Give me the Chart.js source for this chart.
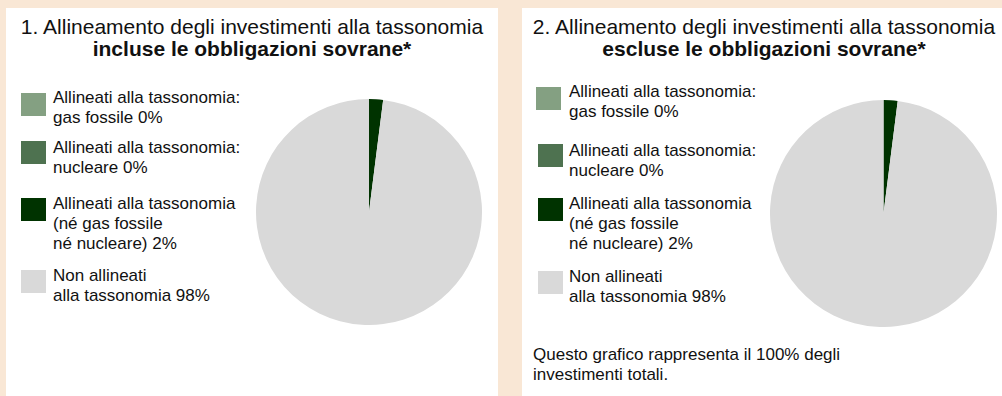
<!DOCTYPE html>
<html>
<head>
<meta charset="utf-8">
<script src="https://cdn.jsdelivr.net/npm/chart.js@4/dist/chart.umd.min.js"></script>
<style>
  body { margin: 0; width: 1002px; height: 396px; background: #f9e7d5; overflow: hidden;
         font-family: "Liberation Sans", Arial, sans-serif; color: #111; position: relative; }
  .panel { position: absolute; top: 8px; height: 388px; background: #fff; }
  .title { position: absolute; font-size: 21px; line-height: 22px; text-align: center; white-space: nowrap; }
  .title b { font-weight: bold; }
  .legend-item { position: absolute; font-size: 17px; line-height: 20px; white-space: nowrap; }
  .swatch { position: absolute; width: 25px; height: 23px; }
  .note { position: absolute; font-size: 17px; line-height: 20px; white-space: nowrap; }
  .pie { position: absolute; }
</style>
</head>
<body>
<div class="panel" style="left:6px; width:492px;"></div>
<div class="panel" style="left:522px; width:480px;"></div>

<div class="title" style="left:6px; width:492px; top:16px;">1. Allineamento degli investimenti alla tassonomia<br><b>incluse le obbligazioni sovrane*</b></div>
<div class="title" style="left:513px; width:502px; top:16px;">2. Allineamento degli investimenti alla tassonomia<br><b>escluse le obbligazioni sovrane*</b></div>

<div id="legend1"></div>
<div id="legend2"></div>

<div class="note" style="left:533px; top:345px;">Questo grafico rappresenta il 100% degli<br>investimenti totali.</div>

<div class="pie" style="left:256px; top:99px; width:226px; height:226px;"><canvas id="pie1"></canvas></div>
<div class="pie" style="left:770px; top:100px; width:227px; height:227px;"><canvas id="pie2"></canvas></div>

<script>
// categories and shares (%) for the two pies
var categories = [
    ['Allineati alla tassonomia:', 'gas fossile 0%'],
    ['Allineati alla tassonomia:', 'nucleare 0%'],
    ['Allineati alla tassonomia', '(né gas fossile', 'né nucleare) 2%'],
    ['Non allineati', 'alla tassonomia 98%']
];
var inclSovereign = [0, 0, 2, 98];
var exclSovereign = [0, 0, 2, 98];
var sliceColors = ['#84a082', '#4e7250', '#003300', '#d9d9d9'];

// legend rows: swatch x and swatch top for each item, text offset from swatch
var legendLeft = { x: [21, 21, 21, 21], textX: 53, tops: [93, 141, 198, 270], textTop: [-5, -3, -4, -4] };
var legendRight = { x: [536, 538, 538, 538], textX: 569, tops: [87, 144, 198, 271], textTop: [-5, -3, -4, -4] };

function buildLegend(el, pos) {
    var html = '';
    categories.forEach(function (lines, i) {
        var top = pos.tops[i];
        html += '<div class="swatch" style="left:' + pos.x[i] + 'px; top:' + top + 'px; background:' + sliceColors[i] + ';"></div>';
        html += '<div class="legend-item" style="left:' + pos.textX + 'px; top:' + (top + pos.textTop[i]) + 'px;">' + lines.join('<br>') + '</div>';
    });
    document.getElementById(el).innerHTML = html;
}
buildLegend('legend1', legendLeft);
buildLegend('legend2', legendRight);

function makePie(id, values) {
    return new Chart(document.getElementById(id), {
        type: 'pie',
        data: {
            labels: categories.map(function (l) { return l.join(' '); }),
            datasets: [{
                data: values,
                backgroundColor: sliceColors,
                borderWidth: 0
            }]
        },
        options: {
            responsive: true,
            maintainAspectRatio: false,
            animation: false,
            layout: { padding: 0 },
            plugins: {
                legend: { display: false },
                tooltip: { enabled: false }
            }
        }
    });
}
makePie('pie1', inclSovereign);
makePie('pie2', exclSovereign);
</script>
</body>
</html>
